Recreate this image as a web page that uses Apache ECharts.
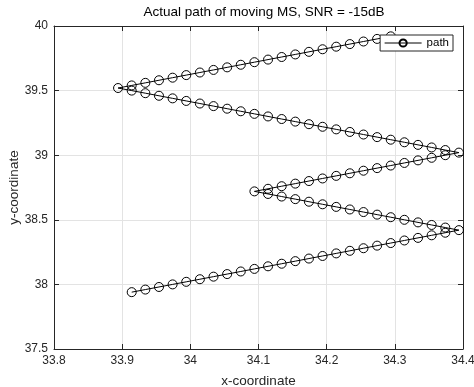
<!DOCTYPE html>
<html>
<head>
<meta charset="utf-8">
<script src="https://cdn.jsdelivr.net/npm/echarts@6/dist/echarts.min.js"></script>
<style>
html,body{margin:0;padding:0;background:#fff;}
#chart{width:474px;height:387px;}
</style>
</head>
<body>
<div id="chart"></div>
<script>
// x-coordinates of the path (in order)
var xs = [
  33.914, 33.934, 33.954, 33.974, 33.994, 34.014, 34.034, 34.054, 34.074, 34.094,
  34.114, 34.134, 34.154, 34.174, 34.194, 34.214, 34.234, 34.254, 34.274, 34.294,
  34.314, 34.334, 34.354, 34.374, 34.394,
  34.374, 34.354, 34.334, 34.314, 34.294, 34.274, 34.254, 34.234, 34.214, 34.194,
  34.174, 34.154, 34.134, 34.114, 34.094,
  34.114, 34.134, 34.154, 34.174, 34.194, 34.214, 34.234, 34.254, 34.274, 34.294,
  34.314, 34.334, 34.354, 34.374, 34.394,
  34.374, 34.354, 34.334, 34.314, 34.294, 34.274, 34.254, 34.234, 34.214, 34.194,
  34.174, 34.154, 34.134, 34.114, 34.094, 34.074, 34.054, 34.034, 34.014, 33.994,
  33.974, 33.954, 33.934, 33.914, 33.894,
  33.914, 33.934, 33.954, 33.974, 33.994, 34.014, 34.034, 34.054, 34.074, 34.094,
  34.114, 34.134, 34.154, 34.174, 34.194, 34.214, 34.234, 34.254, 34.274, 34.294
];
// y-coordinates of the path (in order)
var ys = [
  37.94, 37.96, 37.98, 38.00, 38.02, 38.04, 38.06, 38.08, 38.10, 38.12,
  38.14, 38.16, 38.18, 38.20, 38.22, 38.24, 38.26, 38.28, 38.30, 38.32,
  38.34, 38.36, 38.38, 38.40, 38.42,
  38.44, 38.46, 38.48, 38.50, 38.52, 38.54, 38.56, 38.58, 38.60, 38.62,
  38.64, 38.66, 38.68, 38.70, 38.72,
  38.74, 38.76, 38.78, 38.80, 38.82, 38.84, 38.86, 38.88, 38.90, 38.92,
  38.94, 38.96, 38.98, 39.00, 39.02,
  39.04, 39.06, 39.08, 39.10, 39.12, 39.14, 39.16, 39.18, 39.20, 39.22,
  39.24, 39.26, 39.28, 39.30, 39.32, 39.34, 39.36, 39.38, 39.40, 39.42,
  39.44, 39.46, 39.48, 39.50, 39.52,
  39.54, 39.56, 39.58, 39.60, 39.62, 39.64, 39.66, 39.68, 39.70, 39.72,
  39.74, 39.76, 39.78, 39.80, 39.82, 39.84, 39.86, 39.88, 39.90, 39.92
];
var seriesName = 'path';
var titleText = 'Actual path of moving MS, SNR = -15dB';
var xName = 'x-coordinate';
var yName = 'y-coordinate';
var xRange = [33.8, 34.4, 0.1];
var yRange = [37.5, 40, 0.5];

var data = xs.map(function (x, i) { return [x, ys[i]]; });

var FONT = '"Liberation Sans", Arial, Helvetica, sans-serif';
var AX = '#262626';
var GRID = '#e3e3e3';

function fmt(v) { return String(+(+v).toFixed(2)); }

var chart = echarts.init(document.getElementById('chart'), null, {renderer: 'canvas'});
chart.setOption({
  animation: false,
  backgroundColor: '#fff',
  textStyle: {fontFamily: FONT},
  title: {
    text: titleText,
    left: 259,
    textAlign: 'center',
    top: 0,
    textStyle: {fontFamily: FONT, fontSize: 13.5, fontWeight: 'normal', color: '#000'}
  },
  grid: {left: 54, right: 11, top: 26, bottom: 38, containLabel: false, outerBoundsMode: 'none'},
  legend: {
    data: [seriesName],
    right: 21,
    top: 35,
    orient: 'vertical',
    backgroundColor: '#fff',
    borderColor: AX,
    borderWidth: 1,
    borderRadius: 0,
    padding: [2, 4, 2, 4],
    itemWidth: 37,
    itemHeight: 9,
    lineStyle: {width: 1},
    textStyle: {fontFamily: FONT, fontSize: 11.5, color: '#000'}
  },
  xAxis: [{
    type: 'value',
    min: xRange[0], max: xRange[1], interval: xRange[2],
    name: xName, nameLocation: 'middle', nameGap: 25, nameMoveOverlap: false,
    nameTextStyle: {fontFamily: FONT, fontSize: 13.5, color: AX},
    axisLine: {show: true, lineStyle: {color: AX, width: 1}},
    axisTick: {show: true, inside: true, length: 5, lineStyle: {color: AX}},
    axisLabel: {show: true, formatter: fmt, margin: 6, fontFamily: FONT, fontSize: 12, color: AX},
    splitLine: {show: true, lineStyle: {color: GRID, width: 1}}
  }, {
    type: 'value', position: 'top',
    min: xRange[0], max: xRange[1], interval: xRange[2],
    axisLine: {show: true, onZero: false, lineStyle: {color: AX, width: 1}},
    axisTick: {show: true, inside: true, length: 5, lineStyle: {color: AX}},
    axisLabel: {show: false},
    splitLine: {show: false}
  }],
  yAxis: [{
    type: 'value',
    min: yRange[0], max: yRange[1], interval: yRange[2],
    name: yName, nameLocation: 'middle', nameGap: 33, nameMoveOverlap: false,
    nameTextStyle: {fontFamily: FONT, fontSize: 13.5, color: AX},
    axisLine: {show: true, onZero: false, lineStyle: {color: AX, width: 1}},
    axisTick: {show: true, inside: true, length: 5, lineStyle: {color: AX}},
    axisLabel: {show: true, formatter: fmt, margin: 6, fontFamily: FONT, fontSize: 12, color: AX},
    splitLine: {show: true, lineStyle: {color: GRID, width: 1}}
  }, {
    type: 'value', position: 'right',
    min: yRange[0], max: yRange[1], interval: yRange[2],
    axisLine: {show: true, onZero: false, lineStyle: {color: AX, width: 1}},
    axisTick: {show: true, inside: true, length: 5, lineStyle: {color: AX}},
    axisLabel: {show: false},
    splitLine: {show: false}
  }],
  series: [{
    name: seriesName,
    type: 'line',
    xAxisIndex: 0,
    yAxisIndex: 0,
    data: data,
    symbol: 'circle',
    symbolSize: 9,
    showAllSymbol: true,
    clip: false,
    itemStyle: {color: 'rgba(0,0,0,0)', borderColor: '#000', borderWidth: 1},
    lineStyle: {color: '#000', width: 1},
    emphasis: {disabled: true}
  }]
});
</script>
</body>
</html>
